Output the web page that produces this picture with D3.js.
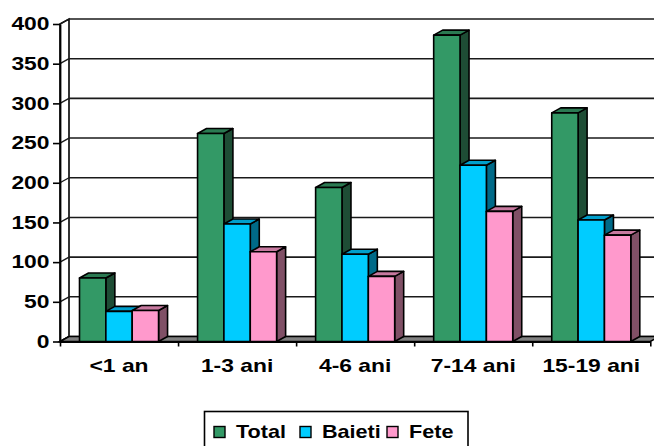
<!DOCTYPE html>
<html>
<head>
<meta charset="utf-8">
<script src="https://cdn.jsdelivr.net/npm/d3@7"></script>
<style>
  html, body { margin: 0; padding: 0; background: #fff; overflow: hidden; }
  svg { display: block; }
  text { font-family: "Liberation Sans", Arial, sans-serif; font-weight: bold; fill: #000; }
</style>
</head>
<body>
<svg id="chart" width="654" height="446"></svg>
<script>
// Age groups and counts per group
const categories = ["<1 an", "1-3 ani", "4-6 ani", "7-14 ani", "15-19 ani"];
const seriesNames = ["Total", "Baieti", "Fete"];
const totalValues = [80, 262, 194, 386, 288];
const baietiValues = [38, 148, 110, 222, 153];
const feteValues = [39, 113, 82, 164, 134];
const yTicks = [0, 50, 100, 150, 200, 250, 300, 350, 400];

// Face colours for each series: front, top, side
const palette = {
  Total:  { front: "#339966", top: "#2b7a52", side: "#1e4d35" },
  Baieti: { front: "#00ccff", top: "#009fcc", side: "#006a88" },
  Fete:   { front: "#ff99cc", top: "#c7799f", side: "#805066" }
};

const svg = d3.select("#chart");
const DX = 9, DY = -5;          // oblique depth offset of the back plane
const left = 60, right = 650.3;
const FONT = 18, SX = 1.27;     // label size and horizontal stretch of the lettering

const x = d3.scaleBand().domain(categories).range([left, right]).padding(0);
const xEdge = d3.scaleLinear().domain([0, categories.length]).range([left, right]);
const inner = 19.5;
const xs = d3.scaleBand().domain(seriesNames).range([inner, x.bandwidth() - inner]).padding(0);
const y = d3.scaleLinear().domain([0, 400]).range([341.5, 24]);

const rows = categories.map((c, i) => ({
  cat: c,
  values: [
    { name: "Total", v: totalValues[i] },
    { name: "Baieti", v: baietiValues[i] },
    { name: "Fete", v: feteValues[i] }
  ]
}));

const pts = a => a.map(p => p.join(",")).join(" ");

// Left side wall with its short diagonal gridlines
const g = svg.append("g");
g.append("polygon")
  .attr("points", pts([[left, y(0)], [left, y(400)], [left + DX, y(400) + DY], [left + DX, y(0) + DY]]))
  .attr("fill", "#fff").attr("stroke", "#000").attr("stroke-width", 1.6);

// Back wall gridlines
g.selectAll("line.grid").data(yTicks).join("line")
  .attr("class", "grid")
  .attr("x1", left + DX).attr("x2", right + DX)
  .attr("y1", d => y(d) + DY).attr("y2", d => y(d) + DY)
  .attr("stroke", "#1a1a1a").attr("stroke-width", 1.6);
g.selectAll("line.side").data(yTicks).join("line")
  .attr("class", "side")
  .attr("x1", left).attr("x2", left + DX)
  .attr("y1", d => y(d)).attr("y2", d => y(d) + DY)
  .attr("stroke", "#1a1a1a").attr("stroke-width", 1.4);

// Floor
g.append("polygon")
  .attr("points", pts([[left, y(0)], [right, y(0)], [right + DX, y(0) + DY], [left + DX, y(0) + DY]]))
  .attr("fill", "#808080").attr("stroke", "#000").attr("stroke-width", 1.6);

// Bars: drawn left to right so each front face covers its neighbour's side face
const bars = svg.append("g");
rows.forEach(row => {
  row.values.forEach(s => {
    const x0 = x(row.cat) + xs(s.name);
    const x1 = x0 + xs.bandwidth();
    const yt = y(s.v), yb = y(0);
    const col = palette[s.name];
    const bg = bars.append("g").attr("stroke", "#000").attr("stroke-width", 1.6).attr("stroke-linejoin", "round");
    bg.append("polygon")
      .attr("points", pts([[x1, yb], [x1, yt], [x1 + DX, yt + DY], [x1 + DX, yb + DY]]))
      .attr("fill", col.side);
    bg.append("polygon")
      .attr("points", pts([[x0, yt], [x1, yt], [x1 + DX, yt + DY], [x0 + DX, yt + DY]]))
      .attr("fill", col.top);
    bg.append("rect")
      .attr("x", x0).attr("y", yt).attr("width", x1 - x0).attr("height", yb - yt)
      .attr("fill", col.front);
  });
});

// Value axis on the front plane
const yAxis = svg.append("g")
  .attr("transform", `translate(${left},0)`)
  .call(d3.axisLeft(y).tickValues(yTicks).tickSize(7).tickSizeOuter(0));
yAxis.select(".domain").attr("stroke", "#000").attr("stroke-width", 1.8);
yAxis.selectAll(".tick line").attr("stroke", "#000").attr("stroke-width", 1.6);
yAxis.selectAll(".tick text")
  .style("font-size", FONT + "px").attr("font-family", null).attr("fill", "#000")
  .attr("x", -10.5 / SX)
  .attr("transform", `scale(${SX},1)`);

// Category axis: edge ticks plus centred labels
const xTicks = svg.append("g")
  .attr("transform", `translate(0,${y(0)})`)
  .call(d3.axisBottom(xEdge).tickValues(d3.range(categories.length + 1)).tickSize(5).tickSizeOuter(0).tickFormat(""));
xTicks.select(".domain").attr("stroke", "#000").attr("stroke-width", 1.8);
xTicks.selectAll(".tick line").attr("stroke", "#000").attr("stroke-width", 1.6);

const xLabels = svg.append("g")
  .attr("transform", `translate(0,${y(0)})`)
  .call(d3.axisBottom(x).tickSize(0).tickPadding(18));
xLabels.select(".domain").remove();
xLabels.selectAll(".tick text")
  .style("font-size", FONT + "px").attr("font-family", null).attr("fill", "#000")
  .attr("transform", `scale(${SX},1)`);

// Legend
const legend = svg.append("g");
legend.append("rect")
  .attr("x", 204.5).attr("y", 411.5).attr("width", 263.5).attr("height", 50)
  .attr("fill", "#fff").attr("stroke", "#000").attr("stroke-width", 1.6);
const legendX = [214, 300, 387];
seriesNames.forEach((n, i) => {
  legend.append("rect")
    .attr("x", legendX[i]).attr("y", 426.5).attr("width", 11).attr("height", 11)
    .attr("fill", palette[n].front).attr("stroke", "#000").attr("stroke-width", 1.4);
  legend.append("text")
    .attr("transform", `translate(${legendX[i] + 22},438) scale(1.2,1)`)
    .style("font-size", FONT + "px")
    .text(n);
});
</script>
</body>
</html>
